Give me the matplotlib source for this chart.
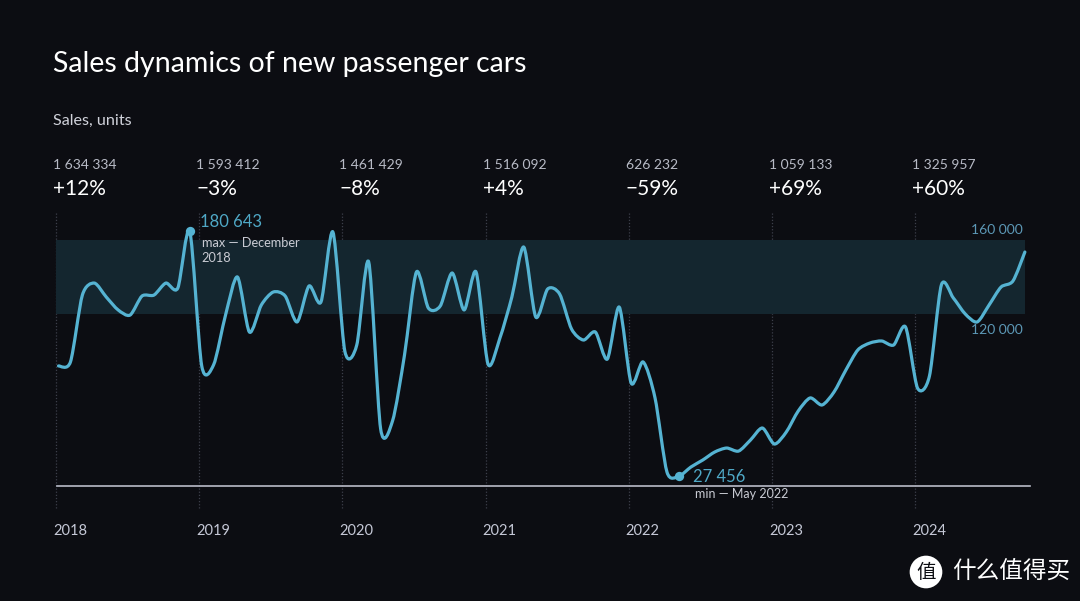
import matplotlib
matplotlib.use("Agg")
import matplotlib.pyplot as plt
import numpy as np
from matplotlib.path import Path
from matplotlib.patches import PathPatch

plt.rcParams['font.family'] = ['Lato', 'DejaVu Sans']

# monthly sales, Jan 2018 - Oct 2024 (units)
sales_2018 = [96300, 98800, 140600, 148100, 139400, 131300, 128100, 140000, 140600, 148100, 145000, 180643]
sales_2019 = [96500, 97000, 128100, 151900, 117500, 134400, 142500, 140000, 123800, 146300, 136300, 180000]
sales_2020 = [105500, 109400, 161300, 57000, 62000, 103100, 155000, 132500, 133800, 154400, 131300, 155000]
sales_2021 = [97500, 113800, 139400, 170600, 126900, 144400, 141300, 119400, 112500, 117500, 100600, 133100]
sales_2022 = [85600, 98800, 76300, 30000, 27456, 33100, 37500, 42500, 45000, 43100, 50000, 57500]
sales_2023 = [47500, 55000, 68100, 76300, 71900, 80000, 93800, 106300, 110600, 111900, 109400, 120600]
sales_2024 = [82500, 90000, 146900, 138800, 128800, 123800, 134400, 145600, 149400, 167500]

years = ["2018", "2019", "2020", "2021", "2022", "2023", "2024"]
totals = ["1 634 334", "1 593 412", "1 461 429", "1 516 092", "626 232", "1 059 133", "1 325 957"]
changes = ["+12%", "\u22123%", "\u22128%", "+4%", "\u221259%", "+69%", "+60%"]

band_low, band_high = 128800, 175000   # shaded band as drawn
band_labels = ["160 000", "120 000"]
baseline = 21300

sales = np.array(sales_2018 + sales_2019 + sales_2020 + sales_2021 + sales_2022 + sales_2023 + sales_2024, dtype=float)
months = np.arange(len(sales))
i_max = int(np.argmax(sales))
i_min = int(np.argmin(sales))

bg = "#0c0d12"
line_c = "#55b3d2"
W, H = 1080, 601

fig = plt.figure(figsize=(10.8, 6.01), dpi=100, facecolor=bg)
ax = fig.add_axes([0, 0, 1, 1])
ax.set_facecolor(bg)
ax.axis("off")
# month index / sales scale, sized to the canvas
ax.set_xlim(-4.904, 85.62)
ax.set_ylim(-50607, 325018)


def fx(px):
    return px / W


def fy(py):
    return 1 - py / H


# band
ax.fill_between([-0.2, 81.0], band_low, band_high, color="#14262f", lw=0, zorder=1)

# year grid lines
year_x = [12 * k - 0.2 for k in range(len(years))]
for x in year_x:
    ax.plot([x, x], [7500, 191900], color="#3c3f4a", lw=0.9, ls=(0, (1, 1.5)), zorder=0)

# baseline
ax.plot([-0.1, 81.4], [baseline, baseline], color="#b9bcc8", lw=1.2, zorder=2)

# smooth line (cardinal spline as cubic bezier)
pts = np.column_stack([months, sales])
verts = [pts[0]]
codes = [Path.MOVETO]
n = len(pts)
k = 1 / 7.5
for i in range(n - 1):
    p0 = pts[max(i - 1, 0)]
    p1 = pts[i]
    p2 = pts[i + 1]
    p3 = pts[min(i + 2, n - 1)]
    verts += [p1 + (p2 - p0) * k, p2 - (p3 - p1) * k, p2]
    codes += [Path.CURVE4] * 3
ax.add_patch(PathPatch(Path(verts, codes), fc="none", ec=line_c, lw=2.3,
                       capstyle="round", joinstyle="round", zorder=4))

# max / min markers
ax.scatter([months[i_max], months[i_min]], [sales[i_max], sales[i_min]],
           s=45, color=line_c, zorder=5, lw=0)
ax.text(months[i_max] + 0.85, sales[i_max] + 5600, "180 643", color="#4fa8c6",
        fontsize=12, ha="left", va="center", zorder=6)
ax.text(months[i_max] + 1.0, sales[i_max] - 3900, "max \u2014 December\n2018", color="#c9cbd3",
        fontsize=9.2, ha="left", va="top", linespacing=1.25, zorder=6)
ax.text(months[i_min] + 1.2, sales[i_min] - 600, "27 456", color="#4fa8c6",
        fontsize=12, ha="left", va="center", zorder=6)
ax.text(months[i_min] + 1.35, sales[i_min] - 11200, "min \u2014 May 2022", color="#c9cbd3",
        fontsize=9.0, ha="left", va="center", zorder=6)

# band labels
ax.text(80.8, band_high + 6300, band_labels[0], color="#5c98b6", fontsize=10,
        ha="right", va="center")
ax.text(80.8, band_low - 10000, band_labels[1], color="#5c98b6", fontsize=10,
        ha="right", va="center")

# year labels
for x, y in zip(year_x, years):
    ax.text(x - 0.25, -6800, y, color="#c5c8d6", fontsize=10.5, ha="left", va="center")

# header
fig.text(fx(53), fy(64), "Sales dynamics of new passenger cars", color="white",
         fontsize=20.5, ha="left", va="center")
fig.text(fx(53), fy(121), "Sales, units", color="#d0d2da", fontsize=11.6, ha="left", va="center")
for x, t, c in zip(year_x, totals, changes):
    px = 58.5 + 11.93 * x - 3
    fig.text(fx(px), fy(165), t, color="#b8bbc6", fontsize=10, ha="left", va="center")
    fig.text(fx(px), fy(189), c, color="white", fontsize=15, ha="left", va="center")

# watermark
fig.text(fx(926), fy(572), "值", color=bg, fontsize=14, ha="center", va="center",
         family=["Noto Sans CJK SC"],
         bbox=dict(boxstyle="circle,pad=0.3", fc="white", ec="none"))
fig.text(fx(952), fy(572), "什么值得买", color="white", fontsize=17, ha="left", va="center",
         family=["Noto Sans CJK SC"])

fig.savefig("out.png", dpi=100, facecolor=bg)
